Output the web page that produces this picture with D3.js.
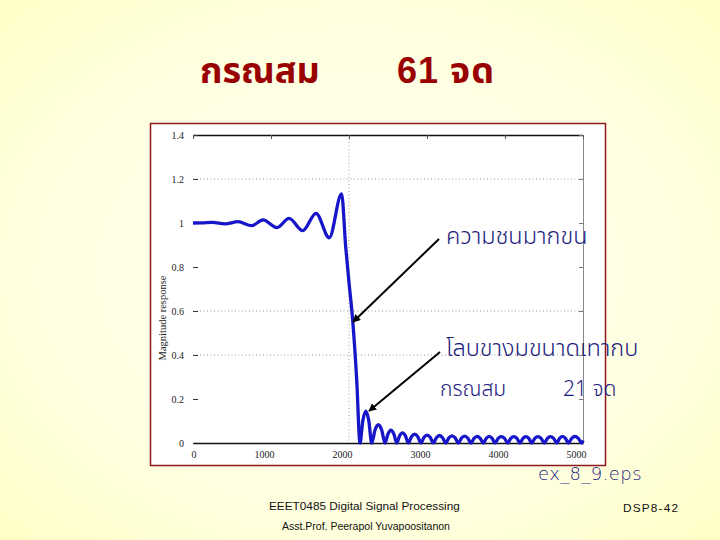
<!DOCTYPE html>
<html>
<head>
<meta charset="utf-8">
<script src="https://cdn.jsdelivr.net/npm/d3@7"></script>
<style>
html,body{margin:0;padding:0;}
body{width:720px;height:540px;overflow:hidden;}
</style>
</head>
<body>
<svg id="chart" width="720" height="540"></svg>
<script>
// ---- data ----
const titleLeft = "กรณสม";
const titleRight = "61 จด";
const xTicks = [0, 1000, 2000, 3000, 4000, 5000];
const yTicks = [0, 0.2, 0.4, 0.6, 0.8, 1, 1.2, 1.4];
const yTickLabels = ["0", "0.2", "0.4", "0.6", "0.8", "1", "1.2", "1.4"];
const yGrid = [0.4, 0.6, 1.2];
const xGrid = [2000];
const yLabel = "Magnitude response";
// frequency (Hz) and magnitude samples of the response curve
const freq = [
  0, 120, 250, 410, 577, 753, 897, 1077, 1231, 1406, 1577, 1747, 1905, 1958, 2000, 2047, 2099, 2141,
  2178, 2216, 2253, 2291,
  2334, 2376, 2419, 2462,
  2500, 2537, 2575, 2612,
  2649, 2686, 2723, 2760,
  2801, 2841, 2882, 2923,
  2962, 3002, 3041, 3081,
  3121, 3160, 3200, 3240,
  3280, 3320, 3361, 3401,
  3442, 3482, 3523, 3564,
  3603, 3643, 3682, 3722,
  3760, 3797, 3835, 3872,
  3913, 3953, 3994, 4035,
  4074, 4113, 4153, 4192,
  4230, 4267, 4305, 4342,
  4382, 4423, 4463, 4504,
  4544, 4583, 4623, 4663,
  4700, 4737, 4775, 4812,
  4855, 4897, 4940, 4983,
  5000
];
const mag = [
  1.000, 1.001, 1.003, 0.996, 1.006, 0.988, 1.014, 0.979, 1.021, 0.965, 1.044, 0.933, 1.132, 0.890, 0.730, 0.559, 0.286, 0.000,
  0.103, 0.145, 0.103, 0.000,
  0.059, 0.083, 0.059, 0.000,
  0.041, 0.058, 0.041, 0.000,
  0.033, 0.046, 0.033, 0.000,
  0.028, 0.040, 0.028, 0.000,
  0.026, 0.036, 0.026, 0.000,
  0.024, 0.034, 0.024, 0.000,
  0.023, 0.032, 0.023, 0.000,
  0.022, 0.031, 0.022, 0.000,
  0.021, 0.030, 0.021, 0.000,
  0.021, 0.030, 0.021, 0.000,
  0.021, 0.029, 0.021, 0.000,
  0.021, 0.029, 0.021, 0.000,
  0.021, 0.029, 0.021, 0.000,
  0.021, 0.029, 0.021, 0.000,
  0.021, 0.029, 0.021, 0.000,
  0.021, 0.030, 0.021, 0.000,
  0.021, 0.030, 0.021, 0.000,
  0.012
];
const noteTop = "ความชนมากขน";
const noteMid = "โลบขางมขนาดเทากบ";
const noteBotLeft = "กรณสม";
const noteBotRight = "21 จด";
const fileName = "ex_8_9.eps";
const footer1 = "EEET0485 Digital Signal Processing";
const footer2 = "Asst.Prof. Peerapol Yuvapoositanon";
const pageNo = "DSP8-42";

// ---- drawing ----
const svg = d3.select("#chart");
const defs = svg.append("defs");
const rg = defs.append("radialGradient").attr("id", "bg").attr("cx", "50%").attr("cy", "50%").attr("r", "75%");
rg.append("stop").attr("offset", "0%").attr("stop-color", "#fffff6");
rg.append("stop").attr("offset", "60%").attr("stop-color", "#ffffe0");
rg.append("stop").attr("offset", "100%").attr("stop-color", "#ffffc2");
const mk = defs.append("marker").attr("id", "ah").attr("viewBox", "0 0 10 10")
  .attr("refX", 9).attr("refY", 5).attr("markerWidth", 4).attr("markerHeight", 4)
  .attr("orient", "auto").attr("markerUnits", "strokeWidth");
mk.append("path").attr("d", "M0,0 L10,5 L0,10 z").attr("fill", "#000");

svg.append("rect").attr("width", 720).attr("height", 540).attr("fill", "url(#bg)");

const thaiFont = "'Noto Sans Thai','Noto Sans Thai Looped','Loma','Garuda','Norasi','Tlwg Typo','DejaVu Sans',sans-serif";

// title
svg.append("text").attr("x", 200).attr("y", 83).text(titleLeft)
  .attr("font-family", thaiFont).attr("font-weight", "bold").attr("font-size", 36).attr("fill", "#990000");
svg.append("text").attr("x", 397).attr("y", 83).text(titleRight)
  .attr("font-family", "'Liberation Sans',Arial," + thaiFont).attr("font-weight", "bold").attr("font-size", 36)
  .attr("letter-spacing", 1).attr("fill", "#990000");

// chart box
svg.append("rect").attr("x", 150.5).attr("y", 123.5).attr("width", 455).attr("height", 342)
  .attr("fill", "#ffffff").attr("stroke", "#8b1a1a").attr("stroke-width", 1.5);

const x = d3.scaleLinear().domain([0, 5000]).range([193, 583]);
const y = d3.scaleLinear().domain([0, 1.4]).range([443, 135]);

const g = svg.append("g");
// grid
g.selectAll(".hg").data(yGrid).enter().append("line")
  .attr("x1", x(0)).attr("x2", x(5000)).attr("y1", d => y(d)).attr("y2", d => y(d))
  .attr("stroke", "#9a9a9a").attr("stroke-width", 1).attr("stroke-dasharray", "1,2.5");
g.selectAll(".vg").data(xGrid).enter().append("line")
  .attr("x1", d => x(d)).attr("x2", d => x(d)).attr("y1", y(1.4)).attr("y2", y(0))
  .attr("stroke", "#9a9a9a").attr("stroke-width", 1).attr("stroke-dasharray", "1,2.5");

// frame lines
g.append("line").attr("x1", x(0)).attr("x2", x(5000)).attr("y1", y(1.4) + 0.5).attr("y2", y(1.4) + 0.5)
  .attr("stroke", "#111").attr("stroke-width", 1.3);
g.append("line").attr("x1", x(5000) + 0.5).attr("x2", x(5000) + 0.5).attr("y1", y(1.4)).attr("y2", y(0))
  .attr("stroke", "#888").attr("stroke-width", 1);

// y axis ticks (left, inward) and right ticks
const yAxis = d3.axisRight(y).tickValues(yTicks).tickSize(5).tickFormat("");
const ya = svg.append("g").attr("transform", `translate(${x(0)},0)`).call(yAxis);
ya.select(".domain").remove();
ya.selectAll("line").attr("stroke", "#333");
const yAxisR = d3.axisLeft(y).tickValues(yTicks).tickSize(4).tickFormat("");
const yr = svg.append("g").attr("transform", `translate(${x(5000)},0)`).call(yAxisR);
yr.select(".domain").remove();
yr.selectAll("line").attr("stroke", "#777");
// y tick labels
svg.selectAll(".yl").data(yTicks).enter().append("text")
  .attr("x", 184).attr("y", d => y(d) + 3.5).attr("text-anchor", "end")
  .attr("font-family", "'Liberation Serif','Times New Roman',serif").attr("font-size", 10).attr("fill", "#222")
  .text((d, i) => yTickLabels[i]);

// x axis (bottom)
const xAxis = d3.axisBottom(x).tickValues(xTicks).tickSize(0).tickPadding(8).tickFormat(d3.format("d"));
const xa = svg.append("g").attr("transform", `translate(0,${y(0)})`).call(xAxis);
xa.select(".domain").attr("stroke", "#111").attr("stroke-width", 1.5);
xa.selectAll("text").attr("font-family", "'Liberation Serif','Times New Roman',serif").attr("font-size", 10)
  .attr("fill", "#222").attr("text-anchor", "end").attr("dx", 3);
// top ticks
const xTop = d3.axisBottom(x).tickValues(xTicks).tickSize(4).tickFormat("");
const xt = svg.append("g").attr("transform", `translate(0,${y(1.4)})`).call(xTop);
xt.select(".domain").remove();
xt.selectAll("line").attr("stroke", "#555");

// y label
svg.append("text").attr("transform", `translate(166,318) rotate(-90)`).attr("text-anchor", "middle")
  .attr("font-family", "'Liberation Serif','Times New Roman',serif").attr("font-size", 10.5).attr("fill", "#222")
  .text(yLabel);

// curve
const pts = freq.map((f, i) => [f, mag[i]]);
const line = d3.line().x(d => x(d[0])).y(d => y(d[1])).curve(d3.curveMonotoneX);
svg.append("path").attr("d", line(pts)).attr("fill", "none").attr("stroke", "#1616c8")
  .attr("stroke-width", 3.3).attr("stroke-linejoin", "round");

// annotations
const noteColor = "#1c1c80";
svg.append("text").attr("x", 446).attr("y", 244).text(noteTop)
  .attr("font-family", thaiFont).attr("font-size", 23.5).attr("font-weight", 300).attr("fill", noteColor);
svg.append("text").attr("x", 446).attr("y", 356).text(noteMid)
  .attr("font-family", thaiFont).attr("font-size", 23.5).attr("font-weight", 300).attr("fill", noteColor);
svg.append("text").attr("x", 440).attr("y", 396).text(noteBotLeft)
  .attr("font-family", thaiFont).attr("font-size", 21).attr("font-weight", 300).attr("fill", noteColor);
svg.append("text").attr("x", 563).attr("y", 396).text(noteBotRight)
  .attr("font-family", thaiFont).attr("font-size", 21).attr("font-weight", 300).attr("fill", noteColor);

// arrows
svg.append("line").attr("x1", 439).attr("y1", 239).attr("x2", 353).attr("y2", 322)
  .attr("stroke", "#000").attr("stroke-width", 2).attr("marker-end", "url(#ah)");
svg.append("line").attr("x1", 440).attr("y1", 352).attr("x2", 369).attr("y2", 411)
  .attr("stroke", "#000").attr("stroke-width", 2).attr("marker-end", "url(#ah)");

// file name
svg.append("text").attr("x", 538).attr("y", 480).text(fileName)
  .attr("font-family", "'DejaVu Sans',sans-serif").attr("font-size", 18).attr("font-weight", 300)
  .attr("letter-spacing", 0.4).attr("fill", noteColor);

// footer
svg.append("text").attr("x", 269).attr("y", 510).text(footer1)
  .attr("font-family", "'Liberation Sans',Arial,sans-serif").attr("font-size", 11.8).attr("fill", "#111");
svg.append("text").attr("x", 282).attr("y", 530).text(footer2)
  .attr("font-family", "'Liberation Sans',Arial,sans-serif").attr("font-size", 10.5).attr("fill", "#111");
svg.append("text").attr("x", 623).attr("y", 512).text(pageNo)
  .attr("font-family", "'Liberation Sans',Arial,sans-serif").attr("font-size", 11.8).attr("letter-spacing", 1.2).attr("fill", "#111");
</script>
</body>
</html>
